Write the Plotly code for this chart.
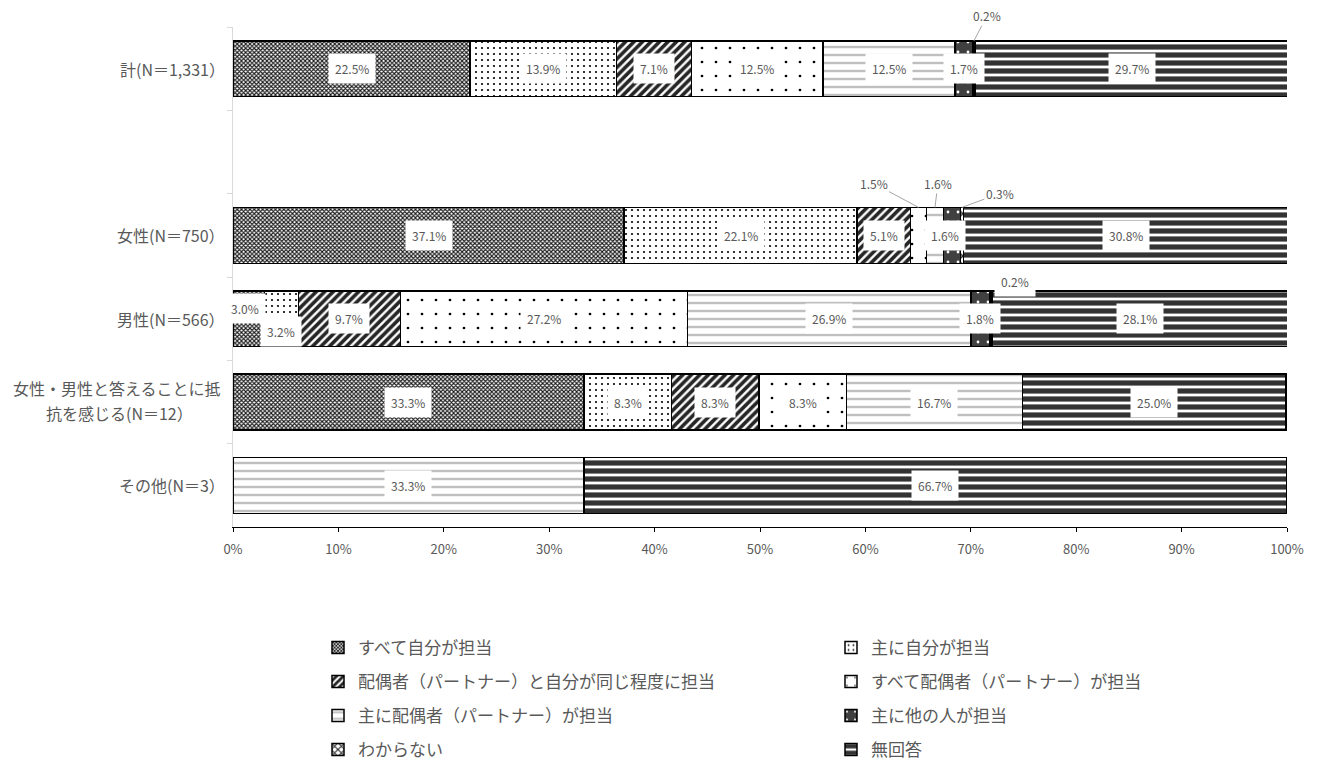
import plotly.graph_objects as go

# rows of the chart (top to bottom); " " is the empty slot under 計
rows = ["計(N＝1,331）", " ", "女性(N＝750）", "男性(N＝566）",
        "女性・男性と答えることに抵抗を感じる(N＝12）", "その他(N＝3）"]
groups = ["計(N＝1,331）", "女性(N＝750）", "男性(N＝566）",
          "女性・男性と答えることに抵抗を感じる(N＝12）", "その他(N＝3）"]
# row label text, wrapped like the original (list = separate lines)
row_text = [["計(N＝1,331）"], ["女性(N＝750）"], ["男性(N＝566）"],
            ["女性・男性と答えることに抵", "抗を感じる(N＝12）"], ["その他(N＝3）"]]

series_names = ["すべて自分が担当", "主に自分が担当",
                "配偶者（パートナー）と自分が同じ程度に担当",
                "すべて配偶者（パートナー）が担当",
                "主に配偶者（パートナー）が担当", "主に他の人が担当",
                "わからない", "無回答"]

all_self = [22.5, 37.1, 3.0, 33.3, 0]
mainly_self = [13.9, 22.1, 3.2, 8.3, 0]
equal_share = [7.1, 5.1, 9.7, 8.3, 0]
all_partner = [12.5, 1.5, 27.2, 8.3, 0]
mainly_partner = [12.5, 1.6, 26.9, 16.7, 33.3]
mainly_other = [1.7, 1.6, 1.8, 0, 0]
unknown = [0.2, 0.3, 0.2, 0, 0]
no_answer = [29.7, 30.8, 28.1, 25.0, 66.7]

series = [all_self, mainly_self, equal_share, all_partner,
          mainly_partner, mainly_other, unknown, no_answer]

tick_vals = [0, 10, 20, 30, 40, 50, 60, 70, 80, 90, 100]
tick_text = ["0%", "10%", "20%", "30%", "40%", "50%", "60%", "70%", "80%", "90%", "100%"]

# fill patterns (Excel style black & white)
patterns = [
    dict(shape="x", fgcolor="#1a1a1a", bgcolor="#ffffff", size=3, solidity=0.6),
    dict(shape=".", fgcolor="#000000", bgcolor="#ffffff", size=6, solidity=0.1),
    dict(shape="/", fgcolor="#262626", bgcolor="#ffffff", size=6, solidity=0.6),
    dict(shape=".", fgcolor="#000000", bgcolor="#ffffff", size=14, solidity=0.03),
    dict(shape="-", fgcolor="#bfbfbf", bgcolor="#ffffff", size=8, solidity=0.3),
    dict(shape=".", fgcolor="#ffffff", bgcolor="#404040", size=10, solidity=0.06),
    dict(shape="x", fgcolor="#262626", bgcolor="#ffffff", size=6, solidity=0.4),
    dict(shape="-", fgcolor="#333333", bgcolor="#ffffff", size=8, solidity=0.65),
]

legend_ids = ["legend", "legend", "legend2", "legend2",
              "legend3", "legend3", "legend4", "legend4"]

FONT = "Noto Sans CJK JP"
GRAY = "#595959"
W, H = 1310, 757   # page puts the plot 8px in from the top-left corner

fig = go.Figure()
for i, (name, vals) in enumerate(zip(series_names, series)):
    fig.add_trace(go.Bar(
        name=name, y=groups, x=vals, orientation="h",
        marker=dict(color=patterns[i]["bgcolor"],
                    pattern=dict(patterns[i], fgopacity=1, fillmode="replace"),
                    line=dict(color="#000000", width=1.5)),
        legend=legend_ids[i], hoverinfo="skip",
    ))

# labels placed away from the segment centre: (series, group) -> settings
special = {
    (6, 0): dict(ax=13, ay=-25, arrow=True),
    (3, 1): dict(ax=-45, ay=-24, arrow=True),
    (4, 1): dict(ax=3, ay=-24, arrow=True),
    (6, 1): dict(ax=38, ay=-14, arrow=True),
    (5, 1): dict(xshift=-7, yshift=0),
    (0, 2): dict(xshift=-4, yshift=10),
    (1, 2): dict(xshift=0, yshift=-13),
    (6, 2): dict(xshift=24, yshift=37),
}

annotations = []
for g in range(len(groups)):
    cum = 0.0
    for s, vals in enumerate(series):
        v = vals[g]
        if v > 0:
            xc = cum + v / 2
            spec = special.get((s, g), {})
            a = dict(x=xc, y=rows.index(groups[g]), xref="x", yref="y",
                     text=f"{v:.1f}%", font=dict(family=FONT, size=12, color=GRAY),
                     bgcolor="#ffffff", borderpad=6, showarrow=False)
            if spec.get("arrow"):
                a.update(y=rows.index(groups[g]) - 0.335, showarrow=True,
                         arrowhead=0, arrowwidth=1, arrowcolor="#a6a6a6",
                         ax=spec["ax"], ay=spec["ay"], borderpad=1)
            else:
                a.update(xshift=spec.get("xshift", 0), yshift=spec.get("yshift", 0))
            annotations.append(a)
        cum += v

label_font = dict(family=FONT, size=16, color=GRAY)
for g, lines in zip(groups, row_text):
    if len(lines) == 1:
        annotations.append(dict(x=0, y=g, xref="paper", yref="y", xanchor="right",
                                xshift=-6, text=lines[0], showarrow=False,
                                font=label_font))
    else:
        annotations.append(dict(x=0, y=g, xref="paper", yref="y", xanchor="right",
                                xshift=-10, yshift=14, text=lines[0],
                                showarrow=False, font=label_font))
        annotations.append(dict(x=0, y=g, xref="paper", yref="y", xanchor="center",
                                xshift=-114, yshift=-11, text=lines[1],
                                showarrow=False, font=label_font))

legend_style = dict(orientation="h", xref="container", yref="container",
                    xanchor="left", yanchor="middle", entrywidth=468,
                    traceorder="normal",
                    font=dict(family=FONT, size=17, color=GRAY),
                    bgcolor="rgba(0,0,0,0)")
row_y = [640, 674, 708, 742]
legends = {}
for k, key in enumerate(["legend", "legend2", "legend3", "legend4"]):
    legends[key] = dict(legend_style, x=(330 - 20) / W, y=1 - row_y[k] / H)

fig.update_layout(
    width=W, height=H,
    margin=dict(l=225, r=31, t=19, b=238),
    barmode="stack", bargap=0.33,
    plot_bgcolor="#ffffff", paper_bgcolor="#ffffff",
    font=dict(family=FONT, color=GRAY),
    xaxis=dict(range=[0, 100], tickvals=tick_vals, ticktext=tick_text,
               showgrid=False, zeroline=False, showline=True, linecolor="#000000",
               linewidth=1, ticks="outside", ticklen=4, tickcolor="#000000",
               ticklabelstandoff=6,
               tickfont=dict(family=FONT, size=13, color=GRAY)),
    yaxis=dict(type="category", categoryorder="array", categoryarray=rows,
               range=[5.5, -0.5], showticklabels=False, showgrid=False,
               showline=True, linecolor="#d9d9d9", ticks="outside",
               tickson="boundaries", ticklen=5, tickcolor="#d9d9d9"),
    annotations=annotations,
    showlegend=True,
    **legends,
)

fig.write_html("out.html")
